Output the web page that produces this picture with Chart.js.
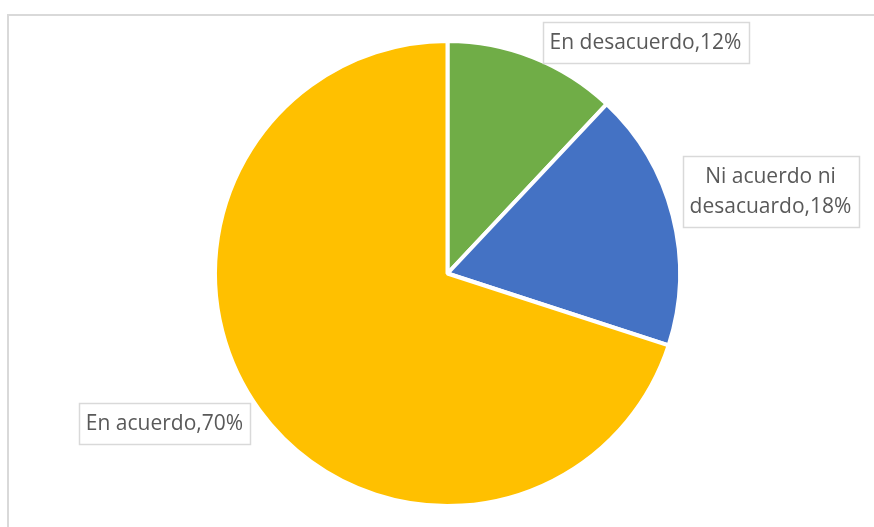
<!DOCTYPE html>
<html>
<head>
<meta charset="utf-8">
<script src="https://cdn.jsdelivr.net/npm/chart.js@4"></script>
<style>
  html, body { margin: 0; padding: 0; background: #fff; }
  canvas { display: block; }
</style>
</head>
<body>
<canvas id="pieChart" width="874" height="527"></canvas>
<script>
const categories = ['En desacuerdo', 'Ni acuerdo ni desacuardo', 'En acuerdo'];
const shares = [12, 18, 70];
const sliceColors = ['#70AD47', '#4472C4', '#FFC000'];

// label box centres, relative to the pie centre, plus how each label wraps
const labelOffsets = [[198, -231], [323, -82], [-283, 150]];
const labelLines = [
    ['En desacuerdo,12%'],
    ['Ni acuerdo ni', 'desacuardo,18%'],
    ['En acuerdo,70%']
];

const frame = {
    id: 'frame',
    beforeDraw(chart) {
        const ctx = chart.ctx;
        ctx.save();
        ctx.fillStyle = '#fff';
        ctx.fillRect(0, 0, chart.width, chart.height);
        ctx.strokeStyle = '#d9d9d9';
        ctx.lineWidth = 2;
        ctx.strokeRect(8, 15, chart.width + 20, chart.height + 20);
        ctx.restore();
    }
};

const boxLabels = {
    id: 'boxLabels',
    afterDraw(chart) {
        const ctx = chart.ctx;
        const arcs = chart.getDatasetMeta(0).data;
        ctx.save();
        ctx.font = '21px "Open Sans", sans-serif';
        ctx.textAlign = 'center';
        ctx.textBaseline = 'middle';
        const lineH = 30;
        arcs.forEach((arc, i) => {
            const cx = arc.x + labelOffsets[i][0];
            const cy = arc.y + labelOffsets[i][1];
            const lines = labelLines[i];
            const w = Math.max(...lines.map(t => ctx.measureText(t).width)) + 14;
            const h = lines.length * lineH + 11;
            ctx.fillStyle = '#fff';
            ctx.fillRect(cx - w / 2, cy - h / 2, w, h);
            ctx.strokeStyle = '#d9d9d9';
            ctx.lineWidth = 1.5;
            ctx.strokeRect(Math.round(cx - w / 2) + 0.5, Math.round(cy - h / 2) + 0.5, Math.round(w), Math.round(h));
            ctx.fillStyle = '#595959';
            lines.forEach((t, j) => {
                ctx.fillText(t, cx, cy + 1 + (j - (lines.length - 1) / 2) * lineH);
            });
        });
        ctx.restore();
    }
};

new Chart(document.getElementById('pieChart'), {
    type: 'pie',
    data: {
        labels: categories,
        datasets: [{
            data: shares,
            backgroundColor: sliceColors,
            borderColor: '#fff',
            borderWidth: 4
        }]
    },
    options: {
        responsive: false,
        animation: false,
        layout: { padding: { top: 39, bottom: 19, left: 213, right: 192 } },
        plugins: {
            legend: { display: false },
            tooltip: { enabled: false }
        }
    },
    plugins: [frame, boxLabels]
});
</script>
</body>
</html>
